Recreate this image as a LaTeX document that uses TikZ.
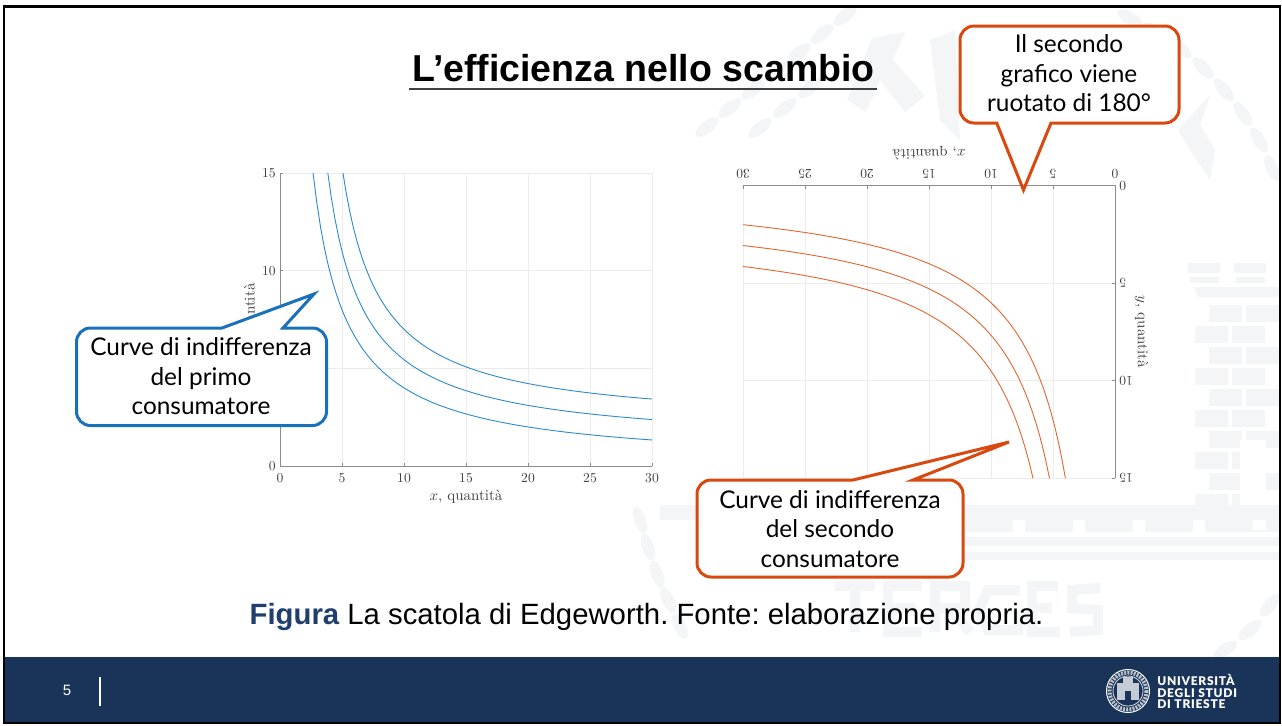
\documentclass[tikz,border=0pt]{standalone}
\usepackage{xcolor}
\usepackage{fontspec}
\newfontfamily\arialfont{Liberation Sans}
\newfontfamily\callfont{Lato}
\newfontfamily\logofont[LetterSpace=6]{Lato Black}
\definecolor{navy}{HTML}{1A3359}
\definecolor{figblue}{HTML}{1F3F6E}
\definecolor{wmark}{HTML}{F4F5F7}
\definecolor{callblue}{HTML}{1A71BB}
\definecolor{callorange}{HTML}{D9490F}
\definecolor{lineblue}{HTML}{2C8ACB}
\definecolor{lineorange}{HTML}{E2662F}
\definecolor{axisgray}{HTML}{8C8C8C}
\definecolor{gridgray}{HTML}{ECECEC}
\definecolor{ticktext}{HTML}{404040}
\begin{document}
\begin{tikzpicture}[
    x=0.5pt, y=-0.5pt,
    callout/.style={fill=white, line width=1.5pt, line join=miter, miter limit=12},
    calltext/.style={align=center, font=\callfont\fontsize{12.2}{14.7}\selectfont, text=black, inner sep=0pt},
    gridline/.style={gridgray, line width=0.4pt},
    axisline/.style={axisgray, line width=0.5pt},
    ticklabel/.style={scale=0.68, text=ticktext, inner sep=0pt},
    axistitle/.style={scale=0.75, text=ticktext, inner sep=0pt}
]
    \useasboundingbox (0,0) rectangle (1282,725);
    \fill[white] (0,0) rectangle (1282,725);

    % watermark
    \begin{scope}
        \clip (5,8) rectangle (1279,657);
        \foreach \px/\py/\ang in {707/127/38,730/108/38,753/90/38,776/71/38,799/53/38,822/34/38,845/16/38,
            1130/18/-30,1155/32/-35,1180/48/-40,1203/68/-45,1224/90/-50,1243/114/-55,1259/140/-60,1272/168/-65,
            640/520/-70,648/547/-70,657/574/-70,668/600/-65,680/626/-65,
            760/128/38,785/108/38,810/88/38,1225/650/35,1250/630/40,1270/605/50}
            \fill[wmark, shift={(\px,\py)}, rotate=\ang] (0,0) ellipse (14 and 6);
        \fill[wmark] (847,100) -- (872,38) -- (905,32) -- (893,60) -- (925,96) -- (905,112) -- (880,80) -- (866,112) -- cycle;
        \fill[wmark] (930,40) -- (955,30) -- (960,140) -- (940,120) -- cycle;
        \fill[wmark] (1178,130) -- (1210,95) -- (1200,125) -- (1215,150) -- (1210,180) -- (1190,150) -- cycle;
        % castle
        \foreach \bx in {1188,1234} {
            \fill[wmark] (\bx,263) rectangle +(32,10);
            \fill[wmark] (\bx+2,277) rectangle +(29,6);
        }
        \fill[wmark] (1194,287) -- (1279,287) -- (1279,297) -- (1198,297) -- cycle;
        \foreach \row in {0,...,10} {
            \foreach \bx in {1209,1246} {
                \pgfmathsetmacro\bshift{mod(\row,2)*14}
                \fill[wmark] (\bx-\bshift,305+\row*21) rectangle +(33,17);
            }
        }
        \fill[white] (1240,440) rectangle (1266,530);
        % base of the castle and bands
        \fill[wmark] (660,505) rectangle (1282,520);
        \foreach \bx in {905,965,1025,1085,1145,1205}
            \fill[wmark] (\bx,520) rectangle +(48,12);
        \fill[wmark] (880,537) rectangle (1282,546);
        \fill[wmark] (880,552) rectangle (1282,560);
        % letters
        \draw[wmark, line width=5pt] (835,586) -- (875,586) (855,586) -- (855,632);
        \draw[wmark, line width=5pt] (922,586) -- (888,586) -- (888,632) -- (922,632) (888,608) -- (915,608);
        \draw[wmark, line width=5pt] (935,632) -- (935,586) -- (965,586) -- (965,608) -- (935,608) (950,608) -- (970,632);
        \draw[wmark, line width=5pt] (1020,590) -- (988,590) -- (980,608) -- (988,630) -- (1018,630) -- (1018,610);
        \draw[wmark, line width=5pt] (1058,586) -- (1032,586) -- (1032,632) -- (1060,632) (1032,608) -- (1052,608);
        \draw[wmark, line width=5pt] (1100,588) -- (1072,590) -- (1072,608) -- (1098,610) -- (1098,630) -- (1070,632);
    \end{scope}
    % white ground of the two graphs
    \fill[white] (225,160) rectangle (665,505);
    \fill[white] (700,145) rectangle (1179,505);

    % first graph
    \begin{scope}[shift={(280,466)}, x=6.2pt, y=9.765pt]
        \foreach \t in {5,10,...,30} \draw[gridline] (\t,0) -- (\t,15);
        \foreach \t in {5,10,15} \draw[gridline] (0,\t) -- (30,\t);
        \draw[axisline] (0,15) -- (0,0) -- (30,0);
        \foreach \t in {0,5,...,30} {
            \draw[axisline] (\t,0) -- (\t,0.15);
            \node[ticklabel] (xa\t) at (\t,-0.6) {\t};
        }
        \foreach \t in {0,5,10,15} {
            \draw[axisline] (0,\t) -- (0.25,\t);
            \node[ticklabel, anchor=east] (ya\t) at (-0.32,\t) {\t};
        }
        \foreach \d in {0,1,2} {
            \pgfmathsetmacro\xstart{\d+40/(15-\d)}
            \draw[lineblue, line width=0.45pt] plot[domain=\xstart:30, samples=90] (\x,{\d+40/(\x-\d)});
        }
        \node[axistitle] (xtitlea) at (15,-1.58) {$x$, quantità};
        \node[axistitle, rotate=90] (ytitlea) at (-2.35,7.5) {$y$, quantità};
    \end{scope}

    % second graph, turned by 180 degrees
    \begin{scope}[shift={(1115,185.7)}, x=-6.2pt, y=-9.75pt]
        \foreach \t in {5,10,...,30} \draw[gridline] (\t,0) -- (\t,15);
        \foreach \t in {5,10,15} \draw[gridline] (0,\t) -- (30,\t);
        \draw[axisline] (0,15) -- (0,0) -- (30,0);
        \foreach \t in {0,5,...,30} {
            \draw[axisline] (\t,0) -- (\t,0.15);
            \node[ticklabel, rotate=180] (xb\t) at (\t,-0.62) {\t};
        }
        \foreach \t in {0,5,10,15} {
            \draw[axisline] (0,\t) -- (0.25,\t);
            \node[ticklabel, rotate=180, anchor=east] (yb\t) at (-0.32,\t) {\t};
        }
        \foreach \d in {0,1,2} {
            \pgfmathsetmacro\xstart{\d+60/(15-\d)}
            \draw[lineorange, line width=0.45pt] plot[domain=\xstart:30, samples=90] (\x,{\d+60/(\x-\d)});
        }
        \node[axistitle, rotate=180] (xtitleb) at (15,-1.65) {$x$, quantità};
        \node[axistitle, rotate=270] (ytitleb) at (-2.15,7.5) {$y$, quantità};
    \end{scope}

    % title and caption
    \node[anchor=base, inner sep=0pt, font=\arialfont\bfseries\fontsize{18.75}{20}\selectfont] (title) at (643.5,81) {L’efficienza nello scambio};
    \draw[black!75, line width=0.7pt] (409,89) -- (877,89);
    \node[anchor=base, inner sep=0pt, font=\arialfont\fontsize{14.66}{16}\selectfont] (caption) at (646.5,624) {\frenchspacing\textcolor{figblue}{\bfseries Figura} La scatola di Edgeworth. Fonte: elaborazione propria.};

    % callouts
    \draw[callout, draw=callblue] (76.5,380) [rounded corners=7pt] -- (76.5,328) [sharp corners] -- (222,328)
        -- (314,294) -- (283,328) [rounded corners=7pt] -- (326.5,328) -- (326.5,425.5) -- (76.5,425.5) -- cycle;
    \node[calltext] (bluetext) at (201,376.5) {Curve di indifferenza\\del primo\\consumatore};

    \draw[callout, draw=callorange] (960,75) [rounded corners=7pt] -- (960,123) [sharp corners] -- (996.7,123)
        -- (1023.5,190) -- (1051,123) [rounded corners=7pt] -- (1179,123) -- (1179,26) -- (960,26) -- cycle;
    \node[calltext] (toptext) at (1069,73.5) {Il secondo\\grafico viene\\ruotato di 180°};

    \draw[callout, draw=callorange] (697,530) [rounded corners=7pt] -- (697,480) [sharp corners] -- (853,480)
        -- (1009,442) -- (913,480) [rounded corners=7pt] -- (963,480) -- (963,577) -- (697,577) -- cycle;
    \node[calltext] (lowtext) at (830,529) {Curve di indifferenza\\del secondo\\consumatore};

    % footer
    \fill[navy] (4,657) rectangle (1280,722);
    \node[text=white, inner sep=0pt, font=\arialfont\fontsize{7.5}{9}\selectfont] (pageno) at (67,690.5) {5};
    \draw[white, line width=0.6pt] (100,677) -- (100,706);
    \draw[white, line width=0.5pt] (1128,691) circle (21.5);
    \draw[white!70!navy, line width=2pt, dash pattern=on 1pt off 0.6pt] (1128,691) circle (18.5);
    \draw[white!85!navy, line width=0.4pt] (1128,691) circle (15);
    \fill[white!75!navy] (1117,683) rectangle (1139,700);
    \fill[white!75!navy] (1123,677) rectangle (1133,684);
    \fill[navy] (1125,691) rectangle (1131,700);
    \node[text=white, anchor=west, align=left, inner sep=0pt, font=\logofont\fontsize{6}{5.8}\selectfont] (logotext) at (1157,691.5) {UNIVERSITÀ\\DEGLI STUDI\\DI TRIESTE};

    % frame
    \draw[black, line width=1.3pt] (4,6.2) rectangle (1280,723);
\end{tikzpicture}
\end{document}
